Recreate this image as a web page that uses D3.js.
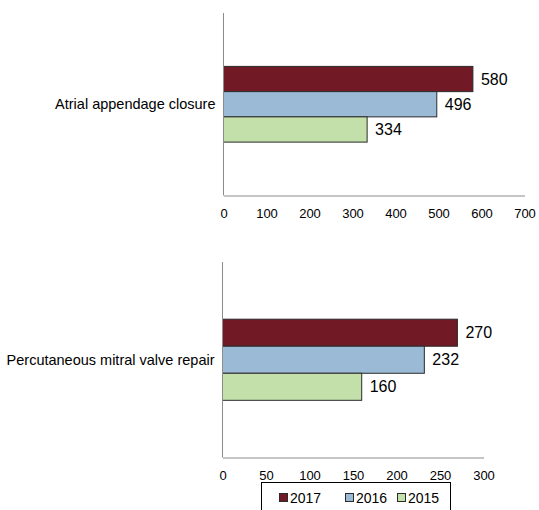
<!DOCTYPE html>
<html>
<head>
<meta charset="utf-8">
<script src="https://cdn.jsdelivr.net/npm/d3@7"></script>
<style>
  body { margin: 0; background: #fff; }
  svg { font-family: Arial, "Liberation Sans", sans-serif; }
</style>
</head>
<body>
<svg id="chart" width="539" height="510"></svg>
<script>
// data
var years = ["2017", "2016", "2015"];
var colors = ["#721926", "#9bbad6", "#c3dfaa"];

var catTop = "Atrial appendage closure";
var valuesTop = [580, 496, 334];
var ticksTop = [0, 100, 200, 300, 400, 500, 600, 700];

var catBottom = "Percutaneous mitral valve repair";
var valuesBottom = [270, 232, 160];
var ticksBottom = [0, 50, 100, 150, 200, 250, 300];

var svg = d3.select("#chart");

function drawPanel(cat, values, ticks, box) {
    var g = svg.append("g");

    var x = d3.scaleLinear()
        .domain([0, ticks[ticks.length - 1]])
        .range([box.left, box.right]);

    var catScale = d3.scaleBand()
        .domain([cat])
        .range([box.top, box.bottom])
        .paddingOuter(0.705);

    var yearScale = d3.scaleBand()
        .domain(years)
        .range([catScale(cat), catScale(cat) + catScale.bandwidth()]);

    // bars
    g.selectAll("rect.bar")
        .data(values)
        .enter()
        .append("rect")
        .attr("class", "bar")
        .attr("x", x(0))
        .attr("y", function (d, i) { return yearScale(years[i]); })
        .attr("width", function (d) { return x(d) - x(0); })
        .attr("height", yearScale.bandwidth())
        .attr("fill", function (d, i) { return colors[i]; })
        .attr("stroke", "#2b2b2b")
        .attr("stroke-width", 1);

    // value labels
    g.selectAll("text.val")
        .data(values)
        .enter()
        .append("text")
        .attr("class", "val")
        .attr("x", function (d) { return x(d) + 8; })
        .attr("y", function (d, i) { return yearScale(years[i]) + yearScale.bandwidth() / 2; })
        .attr("dominant-baseline", "central")
        .style("font-size", "16px")
        .attr("fill", "#000")
        .text(function (d) { return d; });

    // x axis
    var xAxis = d3.axisBottom(x)
        .tickValues(ticks)
        .tickSize(0)
        .tickPadding(13.5);
    var ax = g.append("g")
        .attr("transform", "translate(0," + box.bottom + ")")
        .call(xAxis);
    ax.select(".domain").attr("stroke", "#8c8c8c");
    ax.selectAll("text").style("font-size", "13px").style("font-family", "Arial, 'Liberation Sans', sans-serif").attr("fill", "#000");

    // y axis line
    g.append("line")
        .attr("x1", x(0)).attr("x2", x(0))
        .attr("y1", box.top).attr("y2", box.bottom)
        .attr("stroke", "#8c8c8c");

    // category label
    g.append("text")
        .attr("x", x(0) - 8)
        .attr("y", catScale(cat) + catScale.bandwidth() / 2)
        .attr("text-anchor", "end")
        .attr("dominant-baseline", "central")
        .style("font-size", "14.5px")
        .text(cat);
}

drawPanel(catTop, valuesTop, ticksTop, { left: 223.5, right: 524.5, top: 13, bottom: 195.5 });
drawPanel(catBottom, valuesBottom, ticksBottom, { left: 222.5, right: 483.5, top: 262, bottom: 457.5 });

// legend
var legend = svg.append("g");
legend.append("rect")
    .attr("x", 261.5).attr("y", 482.5)
    .attr("width", 189).attr("height", 40)
    .attr("fill", "#fff")
    .attr("stroke", "#000");

var legendX = [279, 345, 397];
var item = legend.selectAll("g.item")
    .data(years)
    .enter()
    .append("g")
    .attr("class", "item")
    .attr("transform", function (d, i) { return "translate(" + legendX[i] + ",493)"; });

item.append("rect")
    .attr("x", 0.5).attr("y", 0.5)
    .attr("width", 8).attr("height", 8)
    .attr("fill", function (d, i) { return colors[i]; })
    .attr("stroke", "#2b2b2b");

item.append("text")
    .attr("x", 11)
    .attr("y", 4.5)
    .attr("dominant-baseline", "central")
    .style("font-size", "14px")
    .text(function (d) { return d; });
</script>
</body>
</html>
